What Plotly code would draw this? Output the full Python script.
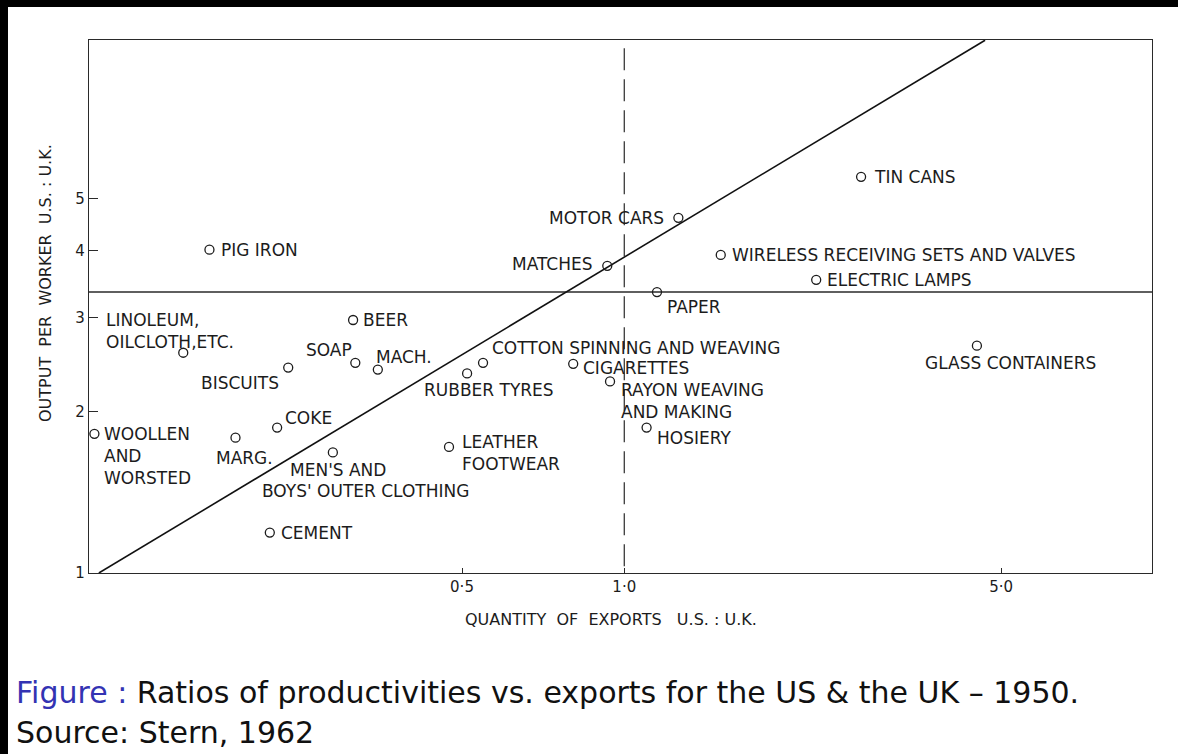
import numpy as np
import plotly.graph_objects as go

# Stern (1962): US:UK ratios, 1950
industries = [
    "Pig iron", "Tin cans", "Wireless receiving sets and valves", "Electric lamps",
    "Paper", "Motor cars", "Matches", "Glass containers",
    "Cotton spinning and weaving", "Rubber tyres", "Cigarettes", "Rayon weaving and making",
    "Hosiery", "Leather footwear", "Machinery", "Soap", "Beer", "Biscuits",
    "Linoleum, oilcloth, etc.", "Coke", "Margarine", "Woollen and worsted",
    "Men's and boys' outer clothing", "Cement",
]
export_ratio = [
    0.170, 2.75, 1.51, 2.27,
    1.15, 1.26, 0.93, 4.51,
    0.547, 0.511, 0.804, 0.941,
    1.10, 0.473, 0.349, 0.317, 0.314, 0.238,
    0.152, 0.227, 0.190, 0.104,
    0.288, 0.220,
]
productivity_ratio = [
    4.02, 5.50, 3.93, 3.53,
    3.35, 4.61, 3.75, 2.66,
    2.47, 2.36, 2.46, 2.28,
    1.87, 1.72, 2.40, 2.47, 2.97, 2.42,
    2.58, 1.87, 1.79, 1.82,
    1.68, 1.19,
]
label_text = [
    "PIG IRON", "TIN CANS", "WIRELESS RECEIVING SETS AND VALVES", "ELECTRIC LAMPS",
    "PAPER", "MOTOR CARS", "MATCHES", "GLASS CONTAINERS",
    "COTTON SPINNING AND WEAVING", "RUBBER TYRES", "CIGARETTES", "RAYON WEAVING<br>AND MAKING",
    "HOSIERY", "LEATHER<br>FOOTWEAR", "MACH.", "SOAP", "BEER", "BISCUITS",
    "LINOLEUM,<br>OILCLOTH,ETC.", "COKE", "MARG.", "WOOLLEN<br>AND<br>WORSTED",
    "MEN'S AND", "CEMENT",
]

# reference lines
trend_x = [0.106, 4.67]
trend_y = [1.0, 9.9]
mean_productivity = 3.35
parity_exports = 1.0

x_ticks = [0.5, 1.0, 5.0]
x_ticktext = ["0·5", "1·0", "5·0"]
y_ticks = [1, 2, 3, 4, 5]
y_ticktext = ["1", "2", "3", "4", "5"]

x_lo, x_hi = -0.993, 0.979     # log10 range
y_lo, y_hi = 0.0, 0.996

# label placement: (xanchor, dx px, dy px downward)
label_place = [
    ("left", 10, 0), ("left", 11, 0), ("left", 9, 0), ("left", 9, 0),
    ("left", 8, 15), ("right", -12, 0), ("right", -12, -2), ("center", 34, 17),
    ("left", 7, -15), ("center", 22, 17), ("left", 8, 4), ("left", 9, 20),
    ("left", 8, 10), ("left", 11, 6), ("left", -4, -13), ("right", -1, -13),
    ("left", 8, 0), ("right", -7, 15),
    ("left", -79, -22), ("left", 6, -10), ("left", -21, 20), ("left", 8, 22),
    ("left", -45, 18), ("left", 9, 0),
]

ink = "#1c1c1c"
lab_font = dict(family="DejaVu Sans", size=17, color=ink)

fig = go.Figure()

fig.add_trace(go.Scatter(
    x=[10 ** x_lo, 10 ** x_hi], y=[mean_productivity, mean_productivity],
    mode="lines", line=dict(color="#2a2a2a", width=1.4), hoverinfo="skip"))
fig.add_trace(go.Scatter(
    x=[parity_exports, parity_exports], y=[1.03, 10 ** y_hi],
    mode="lines", line=dict(color="#2a2a2a", width=1.2, dash="22px,9px"), hoverinfo="skip"))
fig.add_trace(go.Scatter(
    x=trend_x, y=trend_y, mode="lines",
    line=dict(color="#111", width=1.6), hoverinfo="skip"))
fig.add_trace(go.Scatter(
    x=export_ratio, y=productivity_ratio, mode="markers", text=industries,
    marker=dict(symbol="circle-open", size=9, color=ink, line=dict(width=1.3))))

for xv, yv, txt, (anc, dx, dy) in zip(export_ratio, productivity_ratio, label_text, label_place):
    fig.add_annotation(
        x=np.log10(xv), y=np.log10(yv), text=txt, showarrow=False,
        xanchor=anc, yanchor="middle", align="left",
        xshift=dx, yshift=-dy, font=lab_font)

# second line of the clothing label sits further left
fig.add_annotation(
    x=np.log10(export_ratio[22]), y=np.log10(productivity_ratio[22]),
    text="BOYS' OUTER CLOTHING", showarrow=False, xanchor="left", yanchor="middle",
    xshift=-73, yshift=-39, font=lab_font)

# axis titles
fig.add_annotation(
    xref="paper", yref="paper", x=-0.0414, y=0.544, textangle=-90,
    xanchor="center", yanchor="middle",
    text="OUTPUT  PER  WORKER  U.S. : U.K.", showarrow=False,
    font=dict(family="DejaVu Sans", size=16, color=ink))
fig.add_annotation(
    xref="paper", yref="paper", x=0.491, y=-0.088,
    xanchor="center", yanchor="middle",
    text="QUANTITY  OF  EXPORTS   U.S. : U.K.", showarrow=False,
    font=dict(family="DejaVu Sans", size=16, color=ink))

# slide caption
fig.add_annotation(
    xref="paper", yref="paper", x=-0.0705, y=-0.225, xanchor="left", yanchor="middle",
    text='<span style="color:#3333b3">Figure :</span> Ratios of productivities vs. exports for the US &amp; the UK – 1950.',
    showarrow=False, font=dict(family="DejaVu Sans", size=30, color="#111"))
fig.add_annotation(
    xref="paper", yref="paper", x=-0.0705, y=-0.300, xanchor="left", yanchor="middle",
    text="Source: Stern, 1962",
    showarrow=False, font=dict(family="DejaVu Sans", size=30, color="#111"))

# black slide border strips
fig.add_shape(type="rect", xref="paper", yref="paper", x0=-0.1, x1=-0.0762, y0=-0.4, y1=1.1,
              fillcolor="black", line_width=0)
fig.add_shape(type="rect", xref="paper", yref="paper", x0=-0.1, x1=1.1, y0=1.0619, y1=1.1,
              fillcolor="black", line_width=0)

axis_common = dict(showgrid=False, zeroline=False, showline=True, mirror=True,
                   linecolor="#2a2a2a", linewidth=1.4, ticks="inside", tickcolor="#2a2a2a",
                   tickfont=dict(family="DejaVu Sans", size=15, color=ink))
fig.update_xaxes(type="log", range=[x_lo, x_hi], tickvals=x_ticks, ticktext=x_ticktext,
                 ticklen=5, **axis_common)
fig.update_yaxes(type="log", range=[y_lo, y_hi], tickvals=y_ticks, ticktext=y_ticktext,
                 ticklen=9, **axis_common)

fig.update_layout(
    width=1178, height=754,
    margin=dict(l=89, r=26, t=40, b=181),
    plot_bgcolor="white", paper_bgcolor="white",
    showlegend=False,
)

fig.write_html("out.html", config={"displayModeBar": False},
               post_script="document.body.style.margin='0px';")
